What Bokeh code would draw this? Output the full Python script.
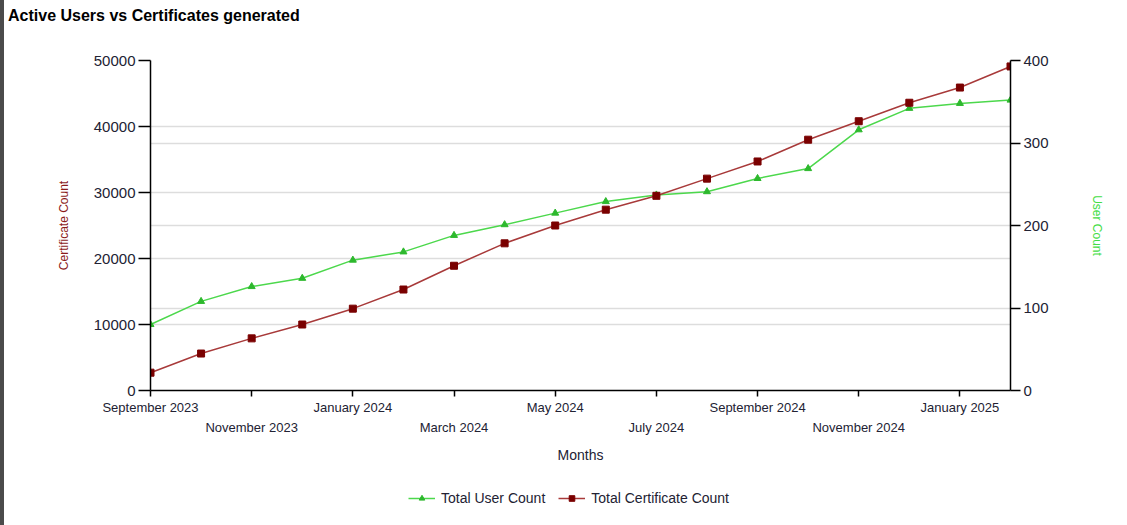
from bokeh.plotting import figure
from bokeh.models import (Range1d, LinearAxis, FixedTicker, Grid, Legend, LegendItem, Div)
from bokeh.layouts import row, column
from bokeh.embed import file_html
from bokeh.resources import INLINE

months = ["September 2023", "October 2023", "November 2023", "December 2023",
          "January 2024", "February 2024", "March 2024", "April 2024",
          "May 2024", "June 2024", "July 2024", "August 2024",
          "September 2024", "October 2024", "November 2024", "December 2024",
          "January 2025", "February 2025"]
cert_counts = [2700, 5600, 7900, 10000, 12400, 15300, 18900, 22300, 25000,
               27400, 29500, 32100, 34700, 38000, 40800, 43600, 45900, 49100]
user_counts = [80, 108, 126, 136, 158, 168, 188, 201, 215,
               229, 237, 241, 257, 269, 316, 342, 348, 352]
cert_ticks = [0, 10000, 20000, 30000, 40000, 50000]
user_ticks = [0, 100, 200, 300, 400]
title_text = "Active Users vs Certificates generated"
series_names = ["Total User Count", "Total Certificate Count"]

x = list(range(len(months)))
tick_idx = x[::2][:9]
row1 = tick_idx[::2]
row2 = tick_idx[1::2]

FONT = "Liberation Sans"
TITLE_H = 28
LEG_H = 55
W = 1123

USER_LINE = "#4cd84c"
USER_MARK = "#2db82d"
CERT_LINE = "#a83a3a"
CERT_MARK = "#7a0000"

p = figure(width=W, height=525 - TITLE_H - LEG_H, output_backend="svg", toolbar_location=None,
           x_range=Range1d(0, len(months) - 1), y_range=Range1d(0, 50000),
           min_border_left=146, min_border_right=117, min_border_top=60 - TITLE_H,
           min_border_bottom=525 - TITLE_H - LEG_H - 362, x_axis_location=None, y_axis_location=None)
for g in list(p.grid):
    g.visible = False
p.outline_line_color = None
p.background_fill_color = "white"
p.border_fill_color = "white"
p.extra_y_ranges = {"users": Range1d(0, 400)}

# grids
g1 = Grid(dimension=1, ticker=FixedTicker(ticks=cert_ticks),
          grid_line_color="#dddddd", grid_line_width=1.5)
g2 = Grid(dimension=1, ticker=FixedTicker(ticks=user_ticks), y_range_name="users",
          grid_line_color="#dddddd", grid_line_width=1.5)
p.add_layout(g1, "center")
p.add_layout(g2, "center")

# left axis
ax_l = LinearAxis(ticker=FixedTicker(ticks=cert_ticks), axis_label="Certificate Count")
ax_l.major_tick_out = 12
ax_l.major_tick_in = 0
ax_l.minor_tick_out = 0
ax_l.major_label_standoff = 3
ax_l.major_label_text_font = FONT
ax_l.major_label_text_font_size = "15px"
ax_l.major_label_text_color = "#222233"
ax_l.axis_label_text_font = FONT
ax_l.axis_label_text_font_size = "12px"
ax_l.axis_label_text_font_style = "normal"
ax_l.axis_label_text_color = "#8b1a1a"
ax_l.axis_label_standoff = 20
ax_l.axis_line_width = 1.5
ax_l.major_tick_line_width = 1.5
p.add_layout(ax_l, "left")

# right axis
ax_r = LinearAxis(y_range_name="users", ticker=FixedTicker(ticks=user_ticks), axis_label="User Count")
ax_r.major_tick_out = 10
ax_r.major_tick_in = 0
ax_r.minor_tick_out = 0
ax_r.major_label_standoff = 3
ax_r.major_label_text_font = FONT
ax_r.major_label_text_font_size = "15px"
ax_r.major_label_text_color = "#222233"
ax_r.axis_label_text_font = FONT
ax_r.axis_label_text_font_size = "12px"
ax_r.axis_label_text_font_style = "normal"
ax_r.axis_label_text_color = "#44dd44"
ax_r.axis_label_standoff = 38
ax_r.axis_line_width = 1.5
ax_r.major_tick_line_width = 1.5
p.add_layout(ax_r, "right")

# bottom axes (staggered labels)
ax_b1 = LinearAxis(ticker=FixedTicker(ticks=tick_idx),
                   major_label_overrides={i: (months[i] if i in row1 else "") for i in tick_idx})
ax_b1.major_tick_out = 6
ax_b1.major_tick_in = 0
ax_b1.minor_tick_out = 0
ax_b1.major_label_standoff = 3
ax_b1.major_label_text_font = FONT
ax_b1.major_label_text_font_size = "13px"
ax_b1.major_label_text_color = "#222233"
ax_b1.axis_line_width = 1.5
ax_b1.major_tick_line_width = 1.5
p.add_layout(ax_b1, "below")

ax_b2 = LinearAxis(ticker=FixedTicker(ticks=row2),
                   major_label_overrides={i: months[i] for i in row2},
                   axis_label="Months")
ax_b2.axis_line_alpha = 0
ax_b2.major_tick_out = 0
ax_b2.major_tick_in = 0
ax_b2.minor_tick_out = 0
ax_b2.major_tick_line_alpha = 0
ax_b2.major_label_standoff = 2
ax_b2.major_label_text_font = FONT
ax_b2.major_label_text_font_size = "13px"
ax_b2.major_label_text_color = "#222233"
ax_b2.axis_label_text_font = FONT
ax_b2.axis_label_text_font_size = "14px"
ax_b2.axis_label_text_font_style = "normal"
ax_b2.axis_label_text_color = "#222233"
ax_b2.axis_label_standoff = 9
p.add_layout(ax_b2, "below")

# series
p.line(x, user_counts, y_range_name="users", line_color=USER_LINE, line_width=1.5)
p.scatter(x, user_counts, y_range_name="users", marker="triangle", size=7,
          fill_color=USER_MARK, line_color=USER_MARK)
p.line(x, cert_counts, line_color=CERT_LINE, line_width=1.5)
p.scatter(x, cert_counts, marker="square", size=7,
          fill_color=CERT_MARK, line_color=CERT_MARK)

# legend strip below the chart (its own small canvas so it is not clipped)
lf = figure(width=W, height=LEG_H, output_backend="svg", toolbar_location=None,
            x_range=Range1d(0, 1), y_range=Range1d(-2, -1),
            min_border=0, x_axis_location=None, y_axis_location=None)
for g in list(lf.grid):
    g.visible = False
lf.outline_line_color = None
lf.border_fill_color = "white"
lr1 = lf.line(x, user_counts, line_color=USER_LINE, line_width=1.5)
ls1 = lf.scatter(x, user_counts, marker="triangle", size=6, fill_color=USER_MARK, line_color=USER_MARK)
lr2 = lf.line(x, cert_counts, line_color=CERT_LINE, line_width=1.5)
ls2 = lf.scatter(x, cert_counts, marker="square", size=5, fill_color=CERT_MARK, line_color=CERT_MARK)
legend = Legend(items=[LegendItem(label=series_names[0], renderers=[lr1, ls1]),
                       LegendItem(label=series_names[1], renderers=[lr2, ls2])],
                orientation="horizontal", location=(256, 17),
                border_line_alpha=0, background_fill_alpha=0,
                label_text_font=FONT, label_text_font_size="14px", label_text_color="#222233",
                glyph_width=27, glyph_height=14, spacing=13, label_standoff=6,
                padding=2, margin=0)
lf.add_layout(legend, "center")

title_div = Div(text=title_text, width=1100, height=TITLE_H - 7, margin=(7, 0, 0, 4),
                styles={"font-family": FONT, "font-size": "16px", "font-weight": "bold",
                        "color": "black", "line-height": "18px"})
strip = Div(width=4, height=525, margin=0, styles={"background-color": "#4b4b4b"})
layout = row(strip, column(title_div, p, lf, spacing=0), spacing=0)

open("out.html", "w").write(file_html(layout, INLINE))
